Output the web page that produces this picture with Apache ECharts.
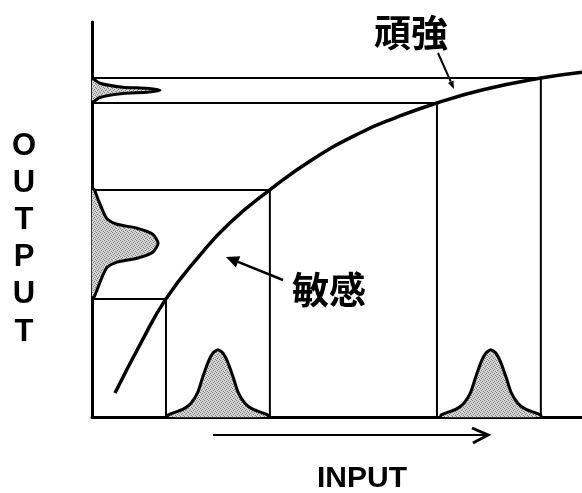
<!DOCTYPE html>
<html>
<head>
<meta charset="utf-8">
<script src="https://cdn.jsdelivr.net/npm/echarts@6/dist/echarts.min.js"></script>
<style>
html,body{margin:0;padding:0;background:#fff;}
#chart{width:582px;height:493px;}
</style>
</head>
<body>
<div id="chart"></div>
<script>
// ---- data (INPUT on x, OUTPUT on y, both 0..100) ----
const curveX = [4.7, 10.0, 15.1, 22.0, 28.0, 36.3, 45.0, 55.0, 62.0, 70.4, 80.0, 91.6, 100];
const curveY = [6.1, 18.8, 29.9, 40.9, 49.0, 57.5, 65.2, 72.1, 75.8, 79.5, 82.9, 85.8, 87.3];

// projection guides: input value -> output value on the curve
const guideX = [15.1, 36.3, 70.4, 91.6];
const guideY = [29.9, 57.5, 79.5, 85.8];

// input distributions (same shape at two operating points)
const inputCenters = [25.7, 81.4];
const inputBellOffsets = [-10.2, -7.1, -5.5, -4.1, -3.1, -2.0, -1.0, 0, 1.0, 2.0, 3.1, 4.1, 5.5, 7.1, 10.2];
const inputBellHeights = [0.5, 2.0, 3.5, 6.3, 10.1, 13.9, 16.2, 17.0, 16.2, 13.9, 10.1, 6.3, 3.5, 2.0, 0.5];

// output distribution in the sensitive region
const outSensCenter = 44.0;
const outSensOffsets = [-13.7, -10.6, -7.6, -6.1, -4.8, -3.8, -2.3, 0, 2.3, 3.8, 4.8, 6.1, 7.6, 10.6, 13.7];
const outSensHeights = [0.4, 1.4, 2.4, 3.1, 5.1, 9.2, 12.4, 13.5, 12.4, 9.2, 5.1, 3.1, 2.4, 1.4, 0.4];

// output distribution in the robust region
const outRobCenter = 82.7;
const outRobOffsets = [-3.0, -1.8, -0.8, -0.5, 0, 0.5, 0.8, 1.8, 3.0];
const outRobHeights = [0.2, 1.6, 6.3, 11.2, 13.9, 11.2, 6.3, 1.6, 0.2];

const labels = { robust: '頑強', sensitive: '敏感', xName: 'INPUT', yName: 'OUTPUT' };

// ---- rendering ----
const chart = echarts.init(document.getElementById('chart'), null, { renderer: 'canvas' });

// stipple fill pattern
const pc = document.createElement('canvas');
pc.width = 4; pc.height = 4;
const pctx = pc.getContext('2d');
pctx.fillStyle = '#d4d4d4'; pctx.fillRect(0, 0, 4, 4);
pctx.fillStyle = '#7a7a7a';
pctx.fillRect(0, 0, 1, 1); pctx.fillRect(2, 1, 1, 1); pctx.fillRect(1, 2, 1, 1); pctx.fillRect(3, 3, 1, 1);
const stipple = { image: pc, repeat: 'repeat' };

function bellSeries(center, offsets, heights, horizontal) {
  return {
    type: 'custom',
    data: [[center]],
    z: 4,
    silent: true,
    renderItem: function (params, api) {
      const c = api.value(0);
      const pts = offsets.map(function (o, i) {
        return horizontal ? api.coord([heights[i], c + o]) : api.coord([c + o, heights[i]]);
      });
      const first = horizontal ? api.coord([0, c + offsets[0]]) : api.coord([c + offsets[0], 0]);
      const last = horizontal ? api.coord([0, c + offsets[offsets.length - 1]]) : api.coord([c + offsets[offsets.length - 1], 0]);
      return {
        type: 'group',
        children: [
          { type: 'polygon', shape: { points: [first].concat(pts, [last]), smooth: 0.2 },
            style: { fill: stipple, stroke: null } },
          { type: 'polyline', shape: { points: [first].concat(pts, [last]), smooth: 0.2 },
            style: { fill: null, stroke: '#000', lineWidth: 3, lineJoin: 'round' } }
        ]
      };
    }
  };
}

const series = [];
// guide L-shapes
guideX.forEach(function (gx, i) {
  series.push({
    type: 'line', silent: true, symbol: 'none', z: 2,
    data: [[0, guideY[i]], [gx, guideY[i]], [gx, 0]],
    lineStyle: { color: '#000', width: 2 }
  });
});
// curve
series.push({
  type: 'line', silent: true, symbol: 'none', smooth: 0.5, z: 5,
  data: curveX.map(function (x, i) { return [x, curveY[i]]; }),
  lineStyle: { color: '#000', width: 3.5 }
});
// bells
inputCenters.forEach(function (c) { series.push(bellSeries(c, inputBellOffsets, inputBellHeights, false)); });
series.push(bellSeries(outSensCenter, outSensOffsets, outSensHeights, true));
series.push(bellSeries(outRobCenter, outRobOffsets, outRobHeights, true));

function arrowEls(x1, y1, x2, y2, len, hw, lw) {
  const dx = x2 - x1, dy = y2 - y1, L = Math.sqrt(dx * dx + dy * dy);
  const ux = dx / L, uy = dy / L;
  const bx = x2 - ux * len, by = y2 - uy * len;
  const px = -uy * hw, py = ux * hw;
  return [
    { type: 'line', shape: { x1: x1, y1: y1, x2: bx, y2: by }, style: { stroke: '#000', lineWidth: lw }, z: 10 },
    { type: 'polygon', shape: { points: [[x2, y2], [bx + px, by + py], [bx - px, by - py]] }, style: { fill: '#000' }, z: 10 }
  ];
}

const cjk = '"Noto Sans CJK JP", "Noto Sans CJK SC", sans-serif';
const latin = '"Liberation Sans", Arial, sans-serif';

const graphic = [].concat(
  [
    { type: 'text', x: 411, y: 33, z: 10,
      style: { text: labels.robust, font: 'bold 37px ' + cjk, fill: '#000', textAlign: 'center', textVerticalAlign: 'middle' } },
    { type: 'text', x: 329, y: 290, z: 10,
      style: { text: labels.sensitive, font: 'bold 37px ' + cjk, fill: '#000', textAlign: 'center', textVerticalAlign: 'middle' } },
    { type: 'text', x: 24, y: 239, z: 10,
      style: { text: labels.yName.split('').join('\n'), font: 'bold 31px ' + latin, lineHeight: 37.2, fill: '#000', textAlign: 'center', textVerticalAlign: 'middle' } },
    { type: 'text', x: 362, y: 479, z: 10,
      style: { text: labels.xName, font: 'bold 30px ' + latin, fill: '#000', textAlign: 'center', textVerticalAlign: 'middle' } },
    { type: 'line', shape: { x1: 213, y1: 435, x2: 486, y2: 435 }, style: { stroke: '#000', lineWidth: 2 }, z: 10 },
    { type: 'polyline', shape: { points: [[472, 428], [488, 435], [473, 443]] }, style: { stroke: '#000', lineWidth: 3, fill: null }, z: 10 }
  ],
  arrowEls(438, 53, 454, 89, 8, 3, 2),
  arrowEls(283, 280, 226, 257, 13, 6, 2.5)
);

chart.setOption({
  animation: false,
  backgroundColor: '#fff',
  grid: { left: 92, right: 0, top: 22, bottom: 76 },
  xAxis: {
    type: 'value', min: 0, max: 100,
    axisLine: { show: true, onZero: false, lineStyle: { color: '#000', width: 3 } },
    axisTick: { show: false }, axisLabel: { show: false }, splitLine: { show: false }
  },
  yAxis: {
    type: 'value', min: 0, max: 100,
    axisLine: { show: true, onZero: false, lineStyle: { color: '#000', width: 3 } },
    axisTick: { show: false }, axisLabel: { show: false }, splitLine: { show: false }
  },
  series: series,
  graphic: graphic
});
</script>
</body>
</html>
